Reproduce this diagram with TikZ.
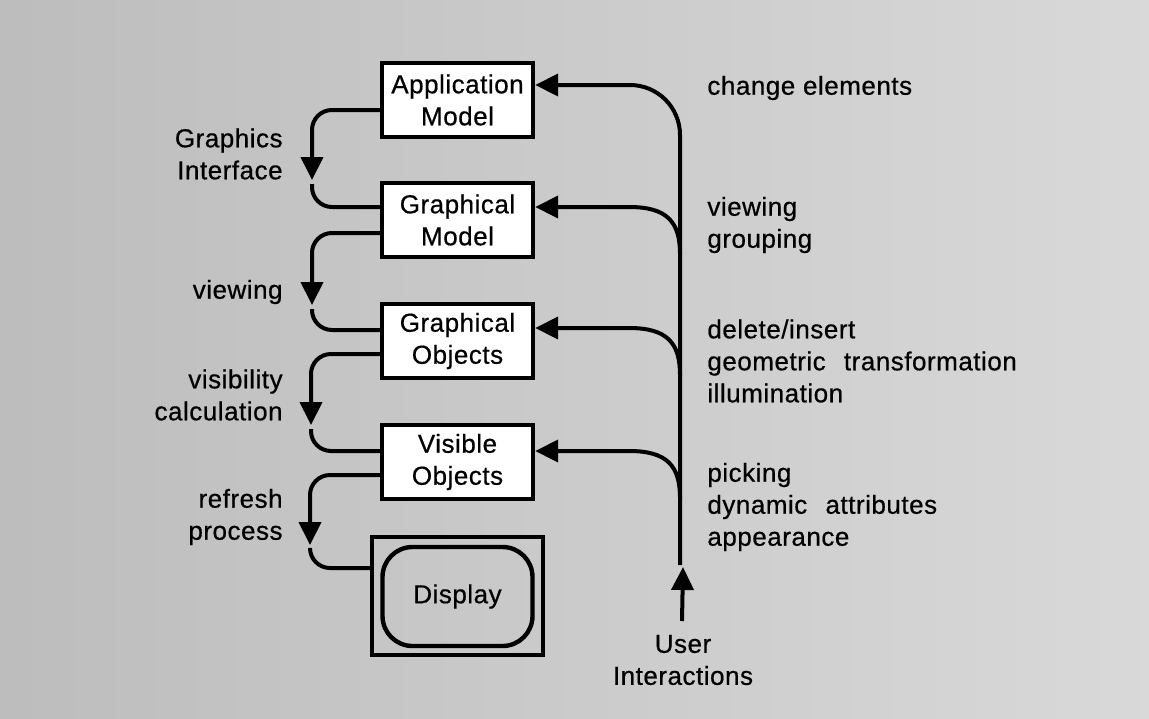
\documentclass[tikz,border=0pt]{standalone}
\usepackage{fontspec}
\setmainfont{Liberation Sans}[LetterSpace=2,FakeBold=0.6]
\usetikzlibrary{arrows.meta,calc}
\begin{document}
\begin{tikzpicture}[x=0.5pt,y=-0.5pt,
  every node/.style={font=\fontsize{13}{16}\selectfont},
  box/.style={draw,line width=2.2pt,fill=white,minimum width=75.5pt,minimum height=37pt,align=center,inner sep=0pt},
  conn/.style={line width=2pt},
  tip/.style={-{Triangle[length=11.5pt,width=11pt]}},
  lbl/.style={align=left,inner sep=0pt,anchor=west},
  rlbl/.style={align=right,inner sep=0pt,anchor=east}]
\fill[left color=black!26,right color=black!15] (0,0) rectangle (1149,718);
\useasboundingbox (0,0) rectangle (1149,718);

% boxes
\node[box] (app) at (457.5,100) {Application\\Model};
\node[box] (gm) at (457.5,220) {Graphical\\Model};
\node[box] (go) at (457.5,341) {Graphical\\Objects};
\node[box] (vo) at (457.5,462) {Visible\\Objects};
\node[draw,line width=2.2pt,minimum width=85.5pt,minimum height=59pt,inner sep=0pt] (disp) at (457.5,596) {};
\node[draw,line width=2.2pt,rounded corners=15pt,minimum width=75pt,minimum height=49.5pt,inner sep=0pt] (dispin) at (457.5,596.5) {Display};

% left pipeline connectors
\coordinate (t1) at (312,180);
\coordinate (t2) at (312,305);
\coordinate (t3) at (311,425);
\coordinate (t4) at (310,545);
\draw[conn,tip,rounded corners=10pt] ($(app.west)+(0,10)$) -| (t1);
\draw[conn,rounded corners=10pt] ($(t1)+(0,4)$) |- ($(gm.west)+(0,-13)$);
\draw[conn,tip,rounded corners=10pt] ($(gm.west)+(0,13)$) -| (t2);
\draw[conn,rounded corners=10pt] ($(t2)+(0,4)$) |- ($(go.west)+(0,-11)$);
\draw[conn,tip,rounded corners=10pt] ($(go.west)+(0,13)$) -| (t3);
\draw[conn,rounded corners=10pt] ($(t3)+(0,4)$) |- ($(vo.west)+(0,-11)$);
\draw[conn,tip,rounded corners=10pt] ($(vo.west)+(0,13)$) -| (t4);
\draw[conn,rounded corners=10pt] ($(t4)+(0,4)$) |- ($(disp.west)+(0,-28)$);

% user interaction connectors
\coordinate (vb) at (680,565);
\coordinate (j2) at (680,254);
\coordinate (j3) at (680,375);
\coordinate (j4) at (680,498);
\draw[conn,tip,rounded corners=25pt] (vb) |- ($(app.east)+(0,-15)$);
\draw[conn,tip] (j2) .. controls +(0,-32) and +(38,0) .. ($(gm.east)+(94,-13)$) -- ($(gm.east)+(0,-13)$);
\draw[conn,tip] (j3) .. controls +(0,-32) and +(38,0) .. ($(go.east)+(94,-13)$) -- ($(go.east)+(0,-13)$);
\draw[conn,tip] (j4) .. controls +(0,-32) and +(38,0) .. ($(vo.east)+(94,-11)$) -- ($(vo.east)+(0,-11)$);

\node[align=center,inner sep=0pt] (user) at (683,660) {User\\Interactions};
\coordinate (us) at (682,621);
\draw[conn,tip] (us) -- ($(vb)+(3,2)$);

% labels
\node[rlbl] (l1) at (283,154) {Graphics\\Interface};
\node[rlbl] (l2) at (283,292) {viewing};
\node[rlbl] (l3) at (283,395) {visibility\\calculation};
\node[rlbl] (l4) at (283,517) {refresh\\process};
\node[lbl] (r1) at (707,88) {change elements};
\node[lbl] (r2) at (707,225) {viewing\\grouping};
\node[lbl] (r3) at (707,361) {delete/insert\\geometric\hspace{0.7em}transformation\\illumination};
\node[lbl] (r4) at (707,507) {picking\\dynamic\hspace{0.7em}attributes\\appearance};
\end{tikzpicture}
\end{document}
